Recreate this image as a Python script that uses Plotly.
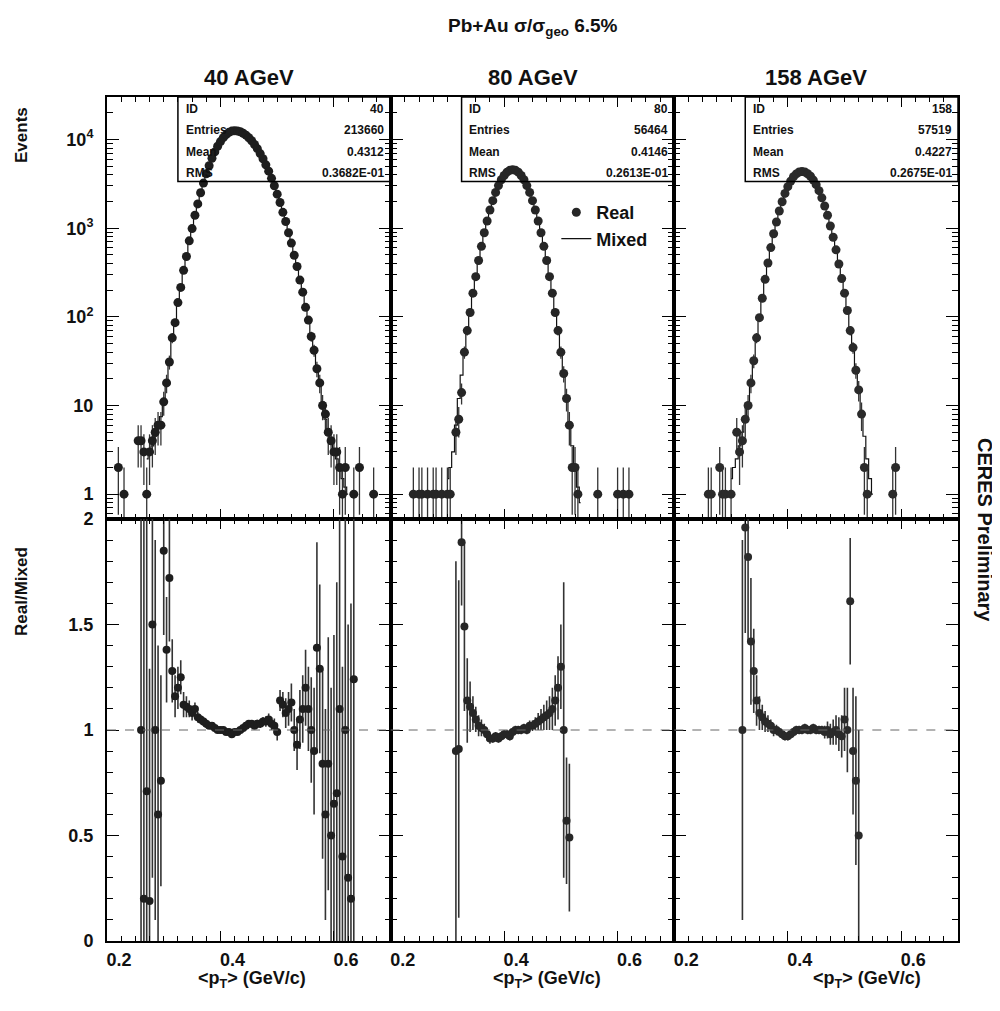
import numpy as np
import plotly.graph_objects as go
from plotly.subplots import make_subplots

# ---------------- data ----------------
energies = ["40 AGeV", "80 AGeV", "158 AGeV"]
stat_ids = ["40", "80", "158"]
stat_entries = ["213660", "56464", "57519"]
stat_means = ["0.4312", "0.4146", "0.4227"]
stat_rms = ["0.3682E-01", "0.2613E-01", "0.2675E-01"]

bin_w = 0.005

# Mixed-event histograms (start bin centre + contents)
mix40_start = 0.270
mix40_y = [2.5, 3, 3.5, 4.5, 5.5, 7.5, 11,
           19, 33, 55, 89, 141, 219, 330, 490, 710, 1000,
           1390, 1890, 2500, 3240, 4100, 5070, 6140, 7260, 8400, 9490,
           10500, 11360, 12040, 12460, 12600, 12500, 12230, 11790, 11200, 10490,
           9680, 8800, 7890, 6960, 6060, 5200, 4390, 3660, 3000, 2430,
           1940, 1520, 1180, 900, 676, 500, 366, 263, 187, 130,
           90, 61, 41, 27, 17, 11, 7, 5, 4, 3,
           2.5, 2, 1.5, 1.2, 1]
mix80_start = 0.300
mix80_y = [1.5, 2, 3, 6, 12, 22, 40, 69, 114, 183,
           286, 430, 628, 886, 1210, 1600, 2050, 2530, 3030, 3515,
           3940, 4280, 4500, 4570, 4500, 4280, 3940, 3515, 3030, 2530,
           2050, 1600, 1210, 886, 628, 430, 286, 183, 114, 69,
           40, 22, 12, 6.5, 3.5, 2, 1.2, 0.8]
mix158_start = 0.300
mix158_y = [1.5, 2, 2.5, 3.5, 5, 7, 10, 17, 30, 55,
            95, 160, 260, 400, 600, 860, 1180, 1560, 2000, 2480,
            2950, 3400, 3800, 4100, 4300, 4350, 4300, 4120, 3850, 3500,
            3100, 2650, 2200, 1780, 1400, 1070, 790, 570, 400, 270,
            178, 115, 72, 44, 26, 15, 8.5, 4.5, 2.5, 1.5, 1]

# Real-event histograms: core (regular bins) + isolated tail bins
real40_start = 0.300
real40_y = [11, 18, 31, 58, 86, 145, 215, 335, 480, 720,
            990, 1400, 1880, 2510, 3230, 4110, 5060, 6150, 7250, 8410,
            9480, 10510, 11350, 12050, 12450, 12610, 12490, 12240, 11780, 11210,
            10480, 9690, 8790, 7900, 6950, 6070, 5190, 4400, 3650, 3010,
            2420, 1950, 1510, 1190, 890, 680, 495, 370, 260, 190,
            128, 92, 60, 42, 26, 18, 10, 8, 5, 4, 3]
tail40_x = [0.220, 0.230, 0.255, 0.260, 0.265, 0.270, 0.275, 0.280, 0.285, 0.290, 0.295,
            0.605, 0.610, 0.615, 0.620, 0.635, 0.645, 0.670]
tail40_y = [2, 1, 4, 4, 3, 1, 3, 4, 5, 6, 6,
            3, 2, 1, 2, 1, 2, 1]

real80_start = 0.315
real80_y = [5, 7, 14, 40, 70, 112, 185, 284, 432, 625,
            890, 1205, 1605, 2045, 2535, 3025, 3520, 3935, 4285, 4495,
            4575, 4495, 4285, 3935, 3520, 3025, 2535, 2045, 1605, 1205,
            890, 625, 432, 284, 185, 112, 70, 40, 23, 12,
            6, 2]
tail80_x = [0.240, 0.250, 0.255, 0.265, 0.275, 0.280, 0.290, 0.300, 0.305,
            0.525, 0.530, 0.565, 0.600, 0.610, 0.620]
tail80_y = [1, 1, 1, 1, 1, 1, 1, 1, 1,
            2, 1, 1, 1, 1, 1]

real158_start = 0.320
real158_y = [4, 7, 10, 18, 32, 58, 98, 162, 265, 405,
             605, 865, 1175, 1565, 1990, 2470, 2940, 3390, 3810, 4100,
             4310, 4350, 4305, 4110, 3860, 3490, 3100, 2650, 2200, 1780,
             1400, 1060, 790, 570, 395, 270, 185, 118, 70, 45,
             25, 15, 8, 2]
tail158_x = [0.260, 0.265, 0.280, 0.285, 0.290, 0.300, 0.310, 0.315,
             0.540, 0.585, 0.590]
tail158_y = [1, 1, 2, 1, 1, 1, 5, 3,
             1, 1, 2]

# Real / Mixed ratios
ratio40_start = 0.260
ratio40_r = [1.0, 0.2, 0.71, 0.19, 1.5, 1.0, 0.6, 0.76, 1.85, 1.38,
             1.72, 1.28, 1.16, 1.2, 1.25, 1.12, 1.11, 1.1, 1.08, 1.1,
             1.06, 1.05, 1.04, 1.03, 1.02, 1.02, 1.01, 1.0, 1.0, 1.0,
             0.99, 0.99, 0.98, 0.99, 0.99, 1.0, 1.01, 1.02, 1.03, 1.03,
             1.02, 1.03, 1.03, 1.04, 1.04, 1.05, 1.03, 1.02, 0.99, 1.14,
             1.12, 1.08, 1.1, 1.13, 1.0, 0.93, 1.05, 1.1, 1.2, 1.1,
             1.0, 0.9, 1.39, 1.29, 0.84, 0.6, 0.84, 0.5, 0.65, 0.7,
             1.1, 0.4, 1.0, 0.3, 0.2, 1.24]
ratio40_e = [1.2, 1.8, 1.3, 1.1, 1.2, 0.9, 0.8, 0.5, 0.4, 0.25,
             0.3, 0.15, 0.1, 0.1, 0.08, 0.06, 0.05, 0.04, 0.035, 0.03,
             0.025, 0.02, 0.02, 0.02, 0.015, 0.015, 0.015, 0.012, 0.012, 0.012,
             0.012, 0.012, 0.012, 0.012, 0.012, 0.012, 0.012, 0.013, 0.014, 0.015,
             0.016, 0.018, 0.02, 0.022, 0.025, 0.028, 0.03, 0.035, 0.04, 0.05,
             0.06, 0.07, 0.08, 0.09, 0.1, 0.12, 0.14, 0.16, 0.18, 0.2,
             0.25, 0.3, 0.5, 0.4, 0.45, 0.5, 0.6, 0.7, 0.8, 1.0,
             1.2, 0.9, 1.5, 1.2, 1.4, 1.5]

ratio80_start = 0.315
ratio80_r = [0.9, 0.91, 1.89, 1.49, 1.14, 1.11, 1.08, 1.05, 1.02, 1.01,
             1.0, 0.98, 0.96, 0.96, 0.97, 0.96, 0.97, 0.98, 0.98, 0.97,
             0.99, 1.0, 1.0, 1.0, 1.01, 1.0, 1.02, 1.02, 1.03, 1.04,
             1.05, 1.06, 1.07, 1.08, 1.1, 1.14, 1.2, 1.3, 1.0, 0.57,
             0.49]
ratio80_e = [0.9, 0.8, 0.3, 0.4, 0.2, 0.12, 0.08, 0.06, 0.05, 0.04,
             0.03, 0.03, 0.025, 0.02, 0.02, 0.02, 0.02, 0.02, 0.02, 0.02,
             0.02, 0.02, 0.02, 0.02, 0.02, 0.02, 0.025, 0.025, 0.03, 0.04,
             0.05, 0.06, 0.07, 0.08, 0.1, 0.12, 0.15, 0.2, 0.7, 0.3,
             0.35]

ratio158_start = 0.320
ratio158_r = [1.0, 1.96, 1.82, 1.42, 1.28, 1.14, 1.08, 1.06, 1.04, 1.03,
              1.02, 1.0, 1.0, 0.99, 0.98, 0.97, 0.97, 0.98, 0.99, 1.0,
              1.0, 1.0, 1.01, 1.0, 1.0, 1.01, 1.0, 1.0, 1.0, 0.99,
              1.0, 0.98, 0.99, 1.0, 0.98, 0.97, 1.05, 1.0, 1.61, 0.9,
              0.76, 0.5]
ratio158_e = [0.9, 0.5, 0.4, 0.3, 0.2, 0.12, 0.08, 0.06, 0.05, 0.04,
              0.03, 0.03, 0.025, 0.02, 0.02, 0.02, 0.02, 0.02, 0.02, 0.02,
              0.02, 0.02, 0.02, 0.02, 0.02, 0.02, 0.02, 0.02, 0.02, 0.03,
              0.04, 0.05, 0.06, 0.07, 0.08, 0.1, 0.15, 0.2, 0.3, 0.3,
              0.4, 0.5]

x_ticks = [0.2, 0.4, 0.6]
x_ticktext = ["0.2", "0.4", "0.6"]
log_ticks = [1, 10, 100, 1000, 10000]
log_ticktext = ["1", "10", "10<sup>2</sup>", "10<sup>3</sup>", "10<sup>4</sup>"]
ratio_ticks = [0, 0.5, 1, 1.5, 2]
ratio_ticktext = ["0", "0.5", "1", "1.5", "2"]


def grid(start, n):
    return np.round(start + bin_w * np.arange(n), 4)


panels = [
    dict(mix_start=mix40_start, mix_y=mix40_y, real_start=real40_start, real_y=real40_y,
         tail_x=tail40_x, tail_y=tail40_y, r_start=ratio40_start, r=ratio40_r, re=ratio40_e,
         col="#1e1e1e"),
    dict(mix_start=mix80_start, mix_y=mix80_y, real_start=real80_start, real_y=real80_y,
         tail_x=tail80_x, tail_y=tail80_y, r_start=ratio80_start, r=ratio80_r, re=ratio80_e,
         col="#262626"),
    dict(mix_start=mix158_start, mix_y=mix158_y, real_start=real158_start, real_y=real158_y,
         tail_x=tail158_x, tail_y=tail158_y, r_start=ratio158_start, r=ratio158_r, re=ratio158_e,
         col="#2a2a2a"),
]

FONT = "Liberation Sans, Arial, Helvetica, sans-serif"
INK = "#111111"

fig = make_subplots(rows=2, cols=3, horizontal_spacing=0, vertical_spacing=0)

for i, p in enumerate(panels):
    c = i + 1
    mx = grid(p["mix_start"], len(p["mix_y"]))
    fig.add_trace(go.Scatter(x=mx, y=p["mix_y"], mode="lines", line_shape="hvh",
                             line=dict(color=INK, width=1.2), name="Mixed",
                             showlegend=(c == 2)), row=1, col=c)
    rx = np.concatenate([grid(p["real_start"], len(p["real_y"])), p["tail_x"]])
    ry = np.concatenate([np.array(p["real_y"], float), np.array(p["tail_y"], float)])
    err = np.sqrt(ry)
    lower = ry - np.maximum(ry - err, 0.3)
    fig.add_trace(go.Scatter(x=rx, y=ry, mode="markers", name="Real", showlegend=(c == 2),
                             marker=dict(symbol="circle", size=9, color=p["col"]),
                             error_y=dict(type="data", array=err, arrayminus=lower,
                                          color="#333333", thickness=1.3, width=0)),
                  row=1, col=c)
    rgx = grid(p["r_start"], len(p["r"]))
    fig.add_trace(go.Scatter(x=rgx, y=p["r"], mode="markers", showlegend=False,
                             marker=dict(symbol="circle", size=8, color=p["col"]),
                             error_y=dict(type="data", array=p["re"], color="#333333",
                                          thickness=1.6, width=0)),
                  row=2, col=c)
    fig.add_hline(y=1, line=dict(color="#666666", width=1, dash="dash"), row=2, col=c)

minor_log = [m * 10 ** k for k in range(-1, 5) for m in range(2, 10)]

axis_common = dict(showline=True, linecolor="black", linewidth=2, mirror="allticks",
                   ticks="inside", tickcolor="black", showgrid=False, zeroline=False,
                   tickfont=dict(family=FONT, size=18, color=INK, weight="bold"))

for i in range(3):
    c = i + 1
    for r in (1, 2):
        fig.update_xaxes(range=[0.2, 0.7], tickmode="array", tickvals=x_ticks, ticktext=x_ticktext,
                         ticklen=10, ticklabelstandoff=1, ticklabelshift=12,
                         minor=dict(ticks="inside", ticklen=5, dtick=0.025, tickcolor="black"),
                         showticklabels=(r == 2), **axis_common, row=r, col=c)
    fig.update_yaxes(type="log", range=[-0.28, 4.48], tickmode="array", tickvals=log_ticks,
                     ticktext=log_ticktext, ticklen=12, ticklabelstandoff=8,
                     minor=dict(ticks="inside", ticklen=6, tickmode="array", tickvals=minor_log,
                                tickcolor="black"),
                     showticklabels=(c == 1), **axis_common, row=1, col=c)
    fig.update_yaxes(range=[0, 2], tickmode="array", tickvals=ratio_ticks, ticktext=ratio_ticktext,
                     ticklen=12, ticklabelstandoff=8,
                     minor=dict(ticks="inside", ticklen=6, dtick=0.1, tickcolor="black"),
                     showticklabels=(c == 1), **axis_common, row=2, col=c)

annotations = []
xtitle_pos = [0.51, 0.55, 0.68]
for i in range(3):
    xd = "x domain" if i == 0 else f"x{i + 1} domain"
    yd = "y domain" if i == 0 else f"y{i + 1} domain"
    fig.add_shape(type="rect", xref=xd, yref=yd, x0=0.25, x1=1.0, y0=0.80, y1=1.0,
                  line=dict(color="black", width=1.5, dash="solid"),
                  fillcolor="rgba(255,255,255,0)")
    rows = [("ID", stat_ids[i]), ("Entries", stat_entries[i]), ("Mean", stat_means[i]),
            ("RMS", stat_rms[i])]
    ys = [0.972, 0.921, 0.87, 0.82]
    for (lab, val), yy in zip(rows, ys):
        annotations.append(dict(xref=xd, yref=yd, x=0.27, y=yy, text=lab, showarrow=False,
                                xanchor="left", yanchor="middle",
                                font=dict(family=FONT, size=12, color=INK, weight="bold")))
        annotations.append(dict(xref=xd, yref=yd, x=0.985, y=yy, text=val, showarrow=False,
                                xanchor="right", yanchor="middle",
                                font=dict(family=FONT, size=12, color=INK, weight="bold")))
    # column titles
    annotations.append(dict(xref=xd, yref="paper", x=0.5, y=1.0, yshift=20, text=energies[i],
                            showarrow=False, xanchor="center", yanchor="middle",
                            font=dict(family=FONT, size=22, color=INK, weight="bold")))
    # x-axis titles
    annotations.append(dict(xref=xd, yref="paper", x=xtitle_pos[i], y=0,
                            yshift=-38, text="&lt;p<sub>T</sub>&gt; (GeV/c)", showarrow=False,
                            xanchor="center", yanchor="middle",
                            font=dict(family=FONT, size=18, color=INK, weight="bold")))

annotations += [
    dict(xref="paper", yref="paper", x=0.5, y=1.0, yshift=70,
         text="Pb+Au σ/σ<sub>geo</sub> 6.5%", showarrow=False, xanchor="center", yanchor="middle",
         font=dict(family=FONT, size=19, color=INK, weight="bold")),
    dict(xref="paper", yref="paper", x=0, xshift=-86, y=1.0, yshift=-38, text="Events",
         showarrow=False, textangle=-90, xanchor="center", yanchor="middle",
         font=dict(family=FONT, size=17, color=INK, weight="bold")),
    dict(xref="paper", yref="paper", x=0, xshift=-86, y=0.5, yshift=-73, text="Real/Mixed",
         showarrow=False, textangle=-90, xanchor="center", yanchor="middle",
         font=dict(family=FONT, size=17, color=INK, weight="bold")),
    dict(xref="paper", yref="paper", x=1.0, xshift=27, y=0.5, yshift=-11,
         text="CERES Preliminary", showarrow=False, textangle=90, xanchor="center",
         yanchor="middle", font=dict(family=FONT, size=20, color=INK, weight="bold")),
]

# page adds an 8px body margin; shrink figure so plot area lands at 107..958 x 97..941
fig.update_layout(
    width=992, height=1003,
    margin=dict(l=99, r=42, t=89, b=70),
    paper_bgcolor="white", plot_bgcolor="white",
    showlegend=True,
    legend=dict(x=0.528, y=0.885, xanchor="left", yanchor="top", bgcolor="rgba(0,0,0,0)",
                font=dict(family=FONT, size=18, color=INK, weight="bold"),
                traceorder="reversed", itemwidth=30),
    annotations=annotations,
    font=dict(family=FONT, color=INK),
)

fig.write_html("out.html")
